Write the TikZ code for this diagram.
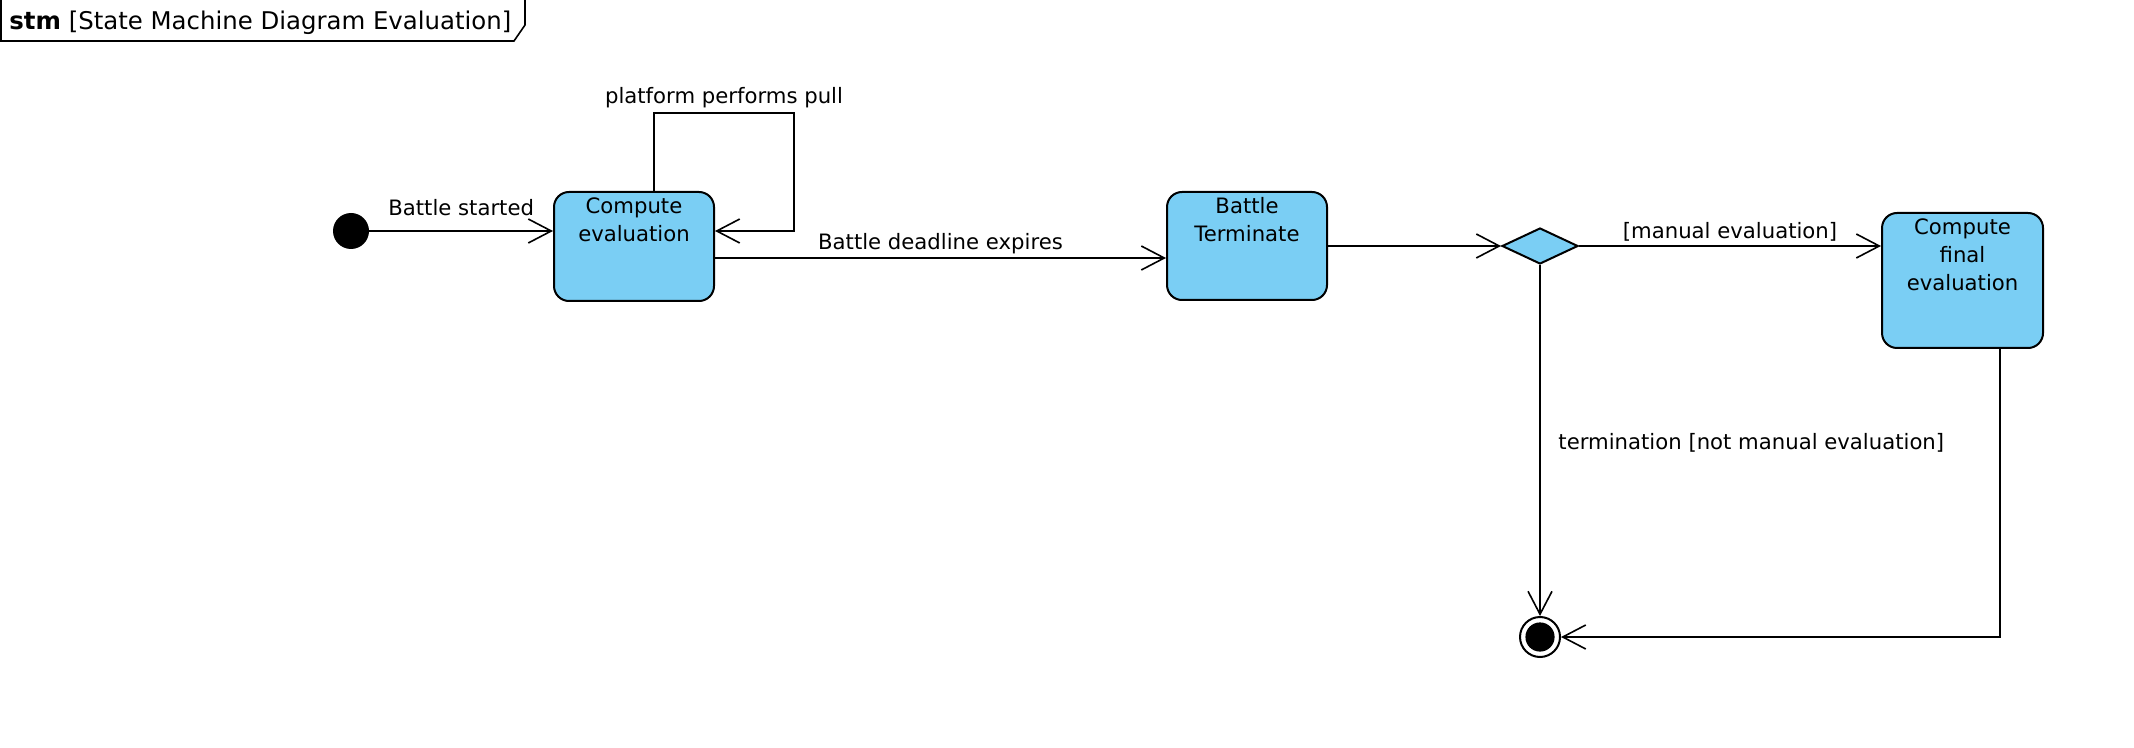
\documentclass[tikz,border=0pt]{standalone}
\usepackage{fontspec}
\setmainfont{DejaVu Sans}
\usepackage{tikz}
\usetikzlibrary{shapes.geometric,arrows.meta,calc,positioning}
\definecolor{stateblue}{RGB}{122,206,244}
\newcommand{\lblfont}{\fontsize{10.6}{14}\selectfont}
\newcommand{\ttlfont}{\fontsize{12.2}{14}\selectfont}
\tikzset{
  statebox/.style={draw, line width=1pt, fill=stateblue, rounded corners=7.5pt,
    minimum width=80pt, inner sep=0pt},
  stxt/.style={anchor=north, align=center, inner sep=3pt, font=\lblfont},
  trans/.style={line width=0.8pt, -{Straight Barb[length=11.5pt,width=12pt,line width=0.8pt]}},
  lbl/.style={font=\lblfont},
}
\begin{document}
\begin{tikzpicture}[x=0.5pt,y=-0.5pt]
  \useasboundingbox (0,0) rectangle (2134,748);
  %Frame
  \draw[line width=0.8pt] (1,0) -- (1,41) -- (514,41) -- (525,25) -- (525,0);
  \node[anchor=base west, font=\ttlfont, inner sep=0pt] (title) at (9,30)
    {\textbf{stm} [State Machine Diagram Evaluation]};
  %States
  \node[circle, fill=black, minimum size=18pt, inner sep=0pt] (init) at (351,231) {};
  \node[statebox, minimum height=54.5pt, label={[stxt]north:Compute\\evaluation}] (ce) at (634,246.5) {};
  \node[statebox, minimum height=54pt, label={[stxt]north:Battle\\Terminate}] (bt) at (1247,246) {};
  \node[diamond, draw, line width=1pt, fill=stateblue, minimum width=38pt,
    minimum height=18pt, inner sep=0pt] (dec) at (1540,246) {};
  \node[statebox, minimum width=80.5pt, minimum height=67.5pt,
    label={[stxt]north:Compute\\final\\evaluation}] (cf) at (1962.5,280.5) {};
  \node[circle, draw, line width=1pt, fill=white, minimum size=20pt, inner sep=0pt] (fin) at (1540,637) {};
  \fill (fin) circle (7.3pt);
  %Transitions
  \draw[trans] (init) -- node[lbl, above=4pt] {Battle started} (ce.west |- init);
  \draw[trans] (ce.north -| 654,0) -- (654,113)
    -- node[lbl, above=-1pt] {platform performs pull} (794,113)
    -- (794,231) -- (ce.east |- 0,231);
  \draw[trans] (ce.east |- 0,258) -- node[lbl, above=-1.5pt] {Battle deadline expires} (bt.west |- 0,258);
  \draw[trans] (bt.east) -- (dec.west);
  \draw[trans] (dec.east) -- node[lbl, above=-1.5pt] {[manual evaluation]} (cf.west |- dec);
  \draw[trans] (dec.south) -- node[lbl, right=5.5pt, yshift=-1pt] {termination [not manual evaluation]} (fin.north);
  \draw[trans] (cf.south -| 2000,0) |- (fin.east);
\end{tikzpicture}
\end{document}
